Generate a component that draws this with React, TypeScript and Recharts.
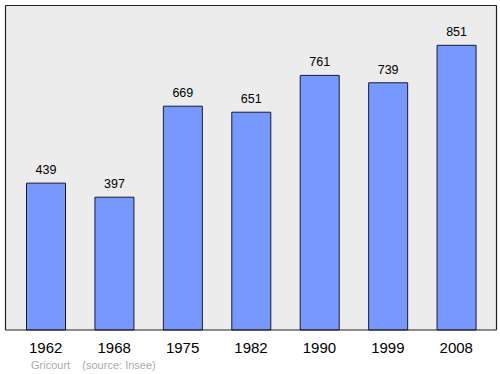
import { BarChart, Bar, XAxis, YAxis, CartesianGrid, LabelList } from 'recharts';

const years = ['1962', '1968', '1975', '1982', '1990', '1999', '2008'];
const population = [439, 397, 669, 651, 761, 739, 851];

const data = years.map((year, i) => ({ year, pop: population[i] }));

const font = '"Liberation Sans", Arial, sans-serif';
const frame = { stroke: '#222', strokeWidth: 1.2 };

export default function App() {
  return (
    <div style={{ position: 'absolute', top: 0, left: 0, width: 500, height: 374, background: '#fff', fontFamily: font }}>
      <BarChart
        width={500}
        height={374}
        data={data}
        margin={{ top: 4.5, right: 2.5, left: 4.5, bottom: 0 }}
      >
        <CartesianGrid horizontal={false} vertical={false} fill="#ececec" />
        <XAxis
          dataKey="year"
          height={44}
          padding={{ left: 6, right: 6 }}
          axisLine={frame}
          tickLine={false}
          tickSize={0}
          tickMargin={12}
          interval={0}
          tick={{ fontSize: 15, fill: '#000', fontFamily: font }}
        />
        <XAxis
          xAxisId="top"
          dataKey="year"
          orientation="top"
          height={1}
          tick={false}
          tickLine={false}
          axisLine={frame}
        />
        <YAxis
          domain={[0, 970]}
          width={1}
          tick={false}
          tickLine={false}
          axisLine={frame}
        />
        <YAxis
          yAxisId="right"
          orientation="right"
          width={1}
          tick={false}
          tickLine={false}
          axisLine={frame}
        />
        <Bar dataKey="pop" fill="#7799ff" stroke="#1a1a33" strokeWidth={1} barSize={39} isAnimationActive={false}>
          <LabelList dataKey="pop" position="top" offset={9} style={{ fontSize: 12.5, fill: '#000', fontFamily: font }} />
        </Bar>
      </BarChart>
      <div style={{ position: 'absolute', left: 31, top: 359, fontSize: 11, color: '#aaa', whiteSpace: 'pre' }}>
        {'Gricourt    (source: Insee)'}
      </div>
    </div>
  );
}
